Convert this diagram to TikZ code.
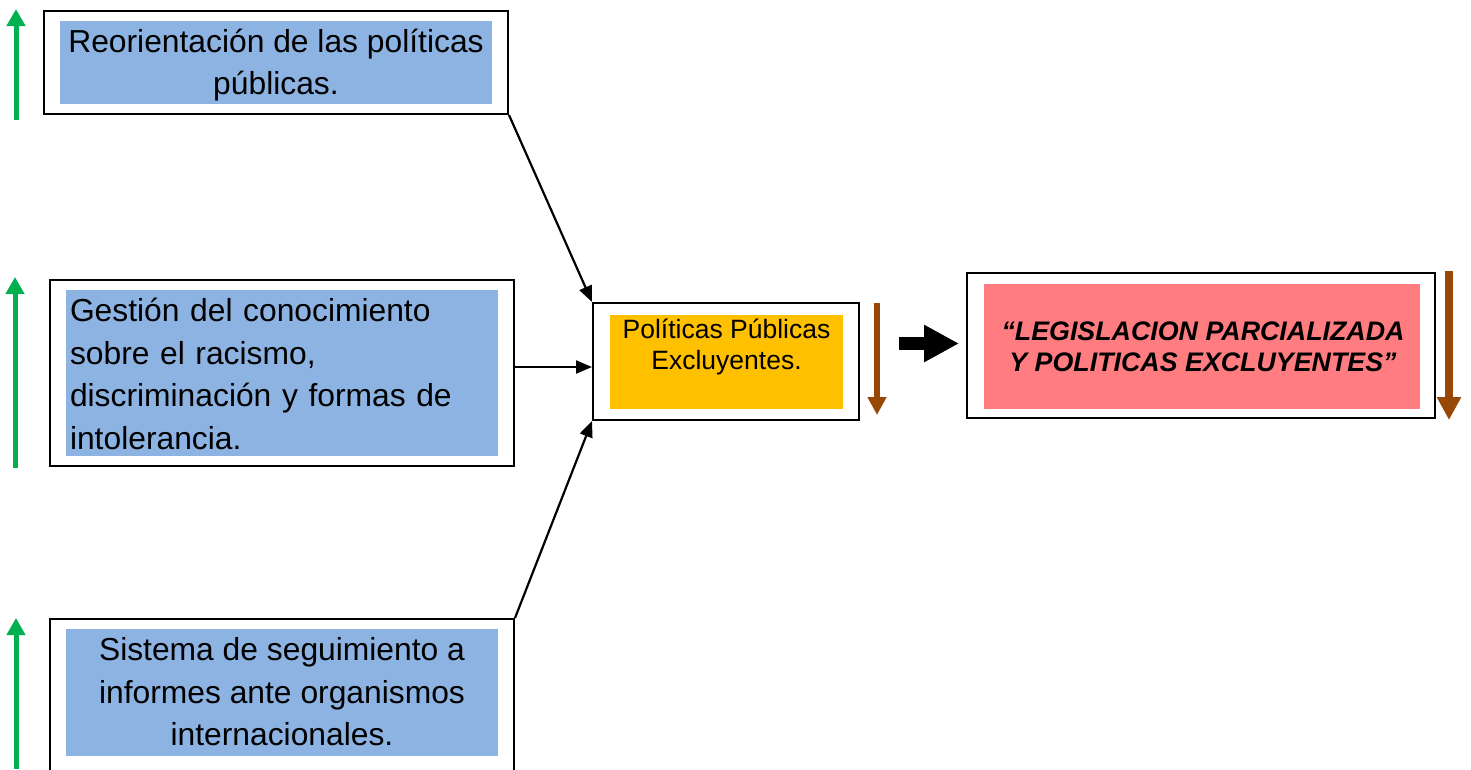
\documentclass[tikz,border=0pt]{standalone}
\usepackage{fontspec}
\setmainfont{Liberation Sans}
\usetikzlibrary{arrows.meta}
\definecolor{boxblue}{RGB}{141,179,226}
\definecolor{boxyellow}{RGB}{255,192,0}
\definecolor{boxred}{RGB}{255,124,128}
\definecolor{upgreen}{RGB}{0,176,80}
\definecolor{downbrown}{RGB}{151,71,6}
\tikzset{
  outerbox/.style={draw=black, line width=2pt, fill=white, inner sep=0pt},
  bluebox/.style={fill=boxblue, inner sep=0pt, align=center, font=\fontsize{31.8}{42.5}\selectfont},
  conn/.style={line width=2.2pt, -{Triangle[length=16pt,width=13pt]}},
  garrow/.style={draw=upgreen, line width=5pt, -{Triangle[length=17pt,width=18pt]}},
  barrow/.style={draw=downbrown, line width=6.7pt, -{Triangle[length=18pt,width=18pt]}},
  bigbarrow/.style={draw=downbrown, line width=7.7pt, -{Triangle[length=23pt,width=23pt]}},
  thickarrow/.style={draw=black, line width=13pt, -{Triangle[length=35pt,width=35pt]}}
}
\begin{document}
\begin{tikzpicture}[x=1pt,y=-1pt]
\useasboundingbox (0,0) rectangle (1471,769);
\clip (0,0) rectangle (1471,769);
\fill[white] (0,0) rectangle (1471,769);

% box 1
\node[outerbox, minimum width=464pt, minimum height=103pt] (b1) at (276,62.5) {};
\node[bluebox, minimum width=432pt, minimum height=83pt] (t1) at (276,62.5) {};
\node[bluebox, fill=none] (t1x) at (276,65)
  {Reorientación de las políticas\\públicas.};

% box 2
\node[outerbox, minimum width=464pt, minimum height=186pt] (b2) at (282,373) {};
\node[bluebox, minimum width=432pt, minimum height=166pt] (t2) at (282,373) {};
\node[bluebox, fill=none, text width=424pt, align=left] (t2x) at (282,374)
  {Gestión del conocimiento\\sobre el racismo,\\discriminación y formas de\\intolerancia.};

% box 3
\node[outerbox, minimum width=464pt, minimum height=171pt] (b3) at (282,704.5) {};
\node[bluebox, minimum width=432pt, minimum height=127pt] (t3) at (282,692.5) {};
\node[bluebox, fill=none] (t3x) at (282,692)
  {Sistema de seguimiento a\\informes ante organismos\\internacionales.};

% center box
\node[outerbox, minimum width=266pt, minimum height=117pt] (c) at (726,361.5) {};
\node[fill=boxyellow, inner sep=0pt, minimum width=233pt, minimum height=94pt] (y1) at (726.5,362) {};
\node[align=center, inner sep=0pt, font=\fontsize{26.5}{31}\selectfont] (t4) at (726.5,347)
  {Políticas Públicas\\Excluyentes.};

% right box
\node[outerbox, minimum width=468pt, minimum height=145pt] (r) at (1201,345.5) {};
\node[fill=boxred, inner sep=0pt, minimum width=436pt, minimum height=125pt] (t5) at (1202,346.5) {};
\node[align=center, inner sep=0pt,
  font=\fontsize{26.8}{31}\selectfont\bfseries\itshape] (t5x) at (1203,347)
  {“LEGISLACION PARCIALIZADA\\Y POLITICAS EXCLUYENTES”};

% connectors
\draw[conn] (b1.south east) -- (c.north west);
\coordinate (m) at ([yshift=6pt]b2.east);
\draw[conn] (m) -- (m -| c.west);
\draw[conn] (b3.north east) -- (c.south west);

% thick arrow between boxes
\coordinate (ta) at (899,343.5);
\coordinate (tb) at (959,343.5);
\draw[thickarrow] (ta) -- (tb);

% green arrows
\coordinate (g1a) at (16,120); \coordinate (g1b) at (16,9);
\coordinate (g2a) at (15,468); \coordinate (g2b) at (15,277);
\coordinate (g3a) at (16,769); \coordinate (g3b) at (16,618);
\draw[garrow] (g1a) -- (g1b);
\draw[garrow] (g2a) -- (g2b);
\draw[garrow] (g3a) -- (g3b);

% brown arrows
\coordinate (d1a) at (877,303); \coordinate (d1b) at (877,415);
\coordinate (d2a) at (1449,271); \coordinate (d2b) at (1449,420);
\draw[barrow] (d1a) -- (d1b);
\draw[bigbarrow] (d2a) -- (d2b);
\end{tikzpicture}
\end{document}
